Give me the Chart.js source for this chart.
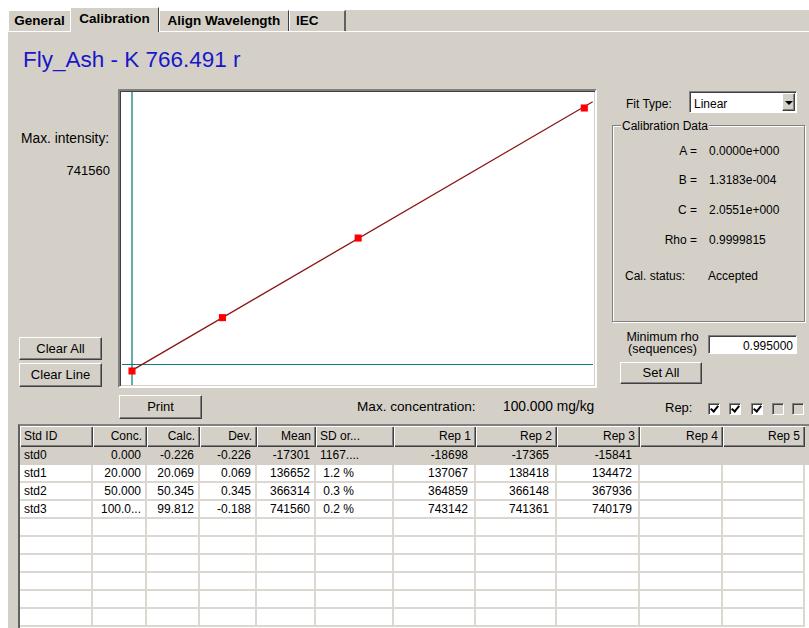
<!DOCTYPE html>
<html>
<head>
<meta charset="utf-8">
<script src="https://cdn.jsdelivr.net/npm/chart.js@4/dist/chart.umd.min.js"></script>
<style>
  body { margin: 0; width: 809px; height: 628px; overflow: hidden; background: #fff; position: relative;
         font-family: Arial, "Liberation Sans", sans-serif; font-size: 12px; color: #000; }
  .abs { position: absolute; white-space: nowrap; line-height: 1; }
  .grey { background: #d4d0c8; }
  .tab { position: absolute; box-sizing: border-box; background: #d4d0c8; font-weight: bold; font-size: 13.5px;
         border-left: 1px solid #fff; border-top: 1px solid #fff; text-align: center; }
  .btn { position: absolute; box-sizing: border-box; background: #d4d0c8; text-align: center;
         border: 1px solid; border-color: #fff #404040 #404040 #fff; box-shadow: inset -1px -1px #808080; }
  .sunk { position: absolute; box-sizing: border-box; background: #fff;
          border: 1px solid; border-color: #808080 #fff #fff #808080; box-shadow: inset 1px 1px #404040; }
  .cb { position: absolute; width: 12px; height: 12px; box-sizing: border-box; background: #d4d0c8;
        border: 1px solid; border-color: #808080 #fff #fff #808080; box-shadow: inset 1px 1px #404040; }
  .cb.on { background: #fff; }
  .cb.on::after { content: ""; position: absolute; left: 3px; top: 0px; width: 3px; height: 6px;
                  border: solid #000; border-width: 0 2px 2px 0; transform: rotate(40deg); }
  #grid { position: absolute; left: 18px; top: 424px; width: 791px; height: 204px; box-sizing: border-box;
          background: #fff; border-left: 2px solid #606060; border-top: 2px solid #808080; }
  .row { display: flex; height: 18px; }
  .row.head { height: 21px; background: #d4d0c8; }
  .row.sel { background: #d4d0c8; }
  .cell { box-sizing: border-box; overflow: hidden; white-space: nowrap; padding: 0 4px; text-align: right;
          border-right: 2px solid #dcd8d1; border-bottom: 2px solid #dcd8d1; line-height: 16px;
          font-family: "Liberation Sans Narrow", "Arial Narrow", Arial, sans-serif; }
  .row.sel .cell { border-color: #d4d0c8; }
  .row.head .cell { font-family: Arial, "Liberation Sans", sans-serif; line-height: 21px; border: none;
          box-shadow: inset 1px 1px #fff, inset -1px -1px #404040, inset -2px -2px #808080; padding: 0 5px 0 4px; }
  .cell.left { text-align: left; }
</style>
</head>
<body>
<div class="abs grey" style="left:8px;top:10px;width:801px;height:618px;"></div>
<div class="abs" style="left:8px;top:31px;width:801px;height:1px;background:#fff;"></div>

<div class="tab" style="left:8px;top:10px;width:62px;height:21px;line-height:20px;">General</div>
<div class="tab" style="left:70px;top:7px;width:89px;height:25px;line-height:21px;border-right:1px solid #404040;">Calibration</div>
<div class="tab" style="left:159px;top:10px;width:130px;height:21px;line-height:20px;border-right:1px solid #404040;">Align Wavelength</div>
<div class="tab" style="left:289px;top:10px;width:57px;height:21px;line-height:20px;border-right:2px solid #606060;text-align:left;padding-left:6px;">IEC</div>

<div class="abs" style="left:23px;top:49px;font-size:22.5px;color:#1717c9;">Fly_Ash - K 766.491 r</div>

<div class="abs" style="left:21px;top:132px;font-size:13.8px;">Max. intensity:</div>
<div class="abs" id="maxInt" style="left:30px;top:164px;width:80px;text-align:right;font-size:13px;"></div>

<div class="btn" style="left:19px;top:337px;width:83px;height:23px;line-height:21px;font-size:13px;">Clear All</div>
<div class="btn" style="left:19px;top:363px;width:83px;height:24px;line-height:22px;font-size:13px;">Clear Line</div>

<!-- plot frame -->
<div class="abs" style="left:118px;top:89px;width:479px;height:299px;box-sizing:border-box;background:#fff;
     border:2px solid;border-color:#808080 #fff #fff #808080;box-shadow:inset 1px 1px #404040, inset -1px -1px #d4d0c8;"></div>
<div class="abs" style="left:122px;top:92px;width:471px;height:293px;">
  <canvas id="calCurve"></canvas>
</div>

<!-- right side -->
<div class="abs" style="left:626px;top:98px;">Fit Type:</div>
<div class="sunk" style="left:689px;top:91px;width:108px;height:22px;">
  <div class="abs" style="left:4px;top:6px;">Linear</div>
  <div class="btn" style="left:92px;top:1px;width:13px;height:18px;">
    <div class="abs" style="left:2px;top:7px;width:0;height:0;border-left:4px solid transparent;border-right:4px solid transparent;border-top:4px solid #000;"></div>
  </div>
</div>

<div class="abs" style="left:612px;top:125px;width:193px;height:197px;box-sizing:border-box;border:1px solid #808080;box-shadow:inset 1px 1px #fff, 1px 1px #fff;"></div>
<div class="abs grey" style="left:621px;top:120px;padding:0 1px;">Calibration Data</div>
<div id="calLabels"></div>
<div class="abs" style="left:625px;top:270px;">Cal. status:</div>
<div class="abs" style="left:708px;top:270px;">Accepted</div>

<div class="abs" style="left:612px;top:331px;width:101px;text-align:center;font-size:12.5px;">Minimum rho</div>
<div class="abs" style="left:612px;top:343px;width:101px;text-align:center;font-size:12.5px;">(sequences)</div>
<div class="sunk" style="left:708px;top:335px;width:89px;height:19px;">
  <div class="abs" id="minRho" style="right:3px;top:4px;"></div>
</div>
<div class="btn" style="left:620px;top:362px;width:82px;height:22px;line-height:20px;font-size:13px;">Set All</div>

<!-- bottom bar -->
<div class="btn" style="left:119px;top:395px;width:83px;height:24px;line-height:22px;font-size:13px;">Print</div>
<div class="abs" style="left:357px;top:400px;font-size:13.6px;">Max. concentration:</div>
<div class="abs" id="maxConc" style="left:503px;top:400px;font-size:13.8px;"></div>
<div class="abs" style="left:665px;top:401px;font-size:13px;">Rep:</div>
<div id="repBoxes"></div>

<div id="grid"></div>

<script>
const stdIds = ["std0", "std1", "std2", "std3"];
const concValues = [0, 20, 50, 100];
const concText = ["0.000", "20.000", "50.000", "100.0..."];
const calcText = ["-0.226", "20.069", "50.345", "99.812"];
const devText = ["-0.226", "0.069", "0.345", "-0.188"];
const meanValues = [-17301, 136652, 366314, 741560];
const sdText = ["1167....", "1.2 %", "0.3 %", "0.2 %"];
const rep1Values = [-18698, 137067, 364859, 743142];
const rep2Values = [-17365, 138418, 366148, 741361];
const rep3Values = [-15841, 134472, 367936, 740179];

// fitted line end points (conc, intensity)
const fitConc = [0, 101.86];
const fitIntensity = [-15590, 759700];

// calibration data panel
const coefLabels = ["A =", "B =", "C =", "Rho ="];
const coefText = ["0.0000e+000", "1.3183e-004", "2.0551e+000", "0.9999815"];

const headers = ["Std ID", "Conc.", "Calc.", "Dev.", "Mean", "SD or...", "Rep 1", "Rep 2", "Rep 3", "Rep 4", "Rep 5"];
const colWidths = [73, 54, 53, 57, 59, 78, 82, 81, 83, 83, 82];
const dataPadRight = [4, 4, 4, 4, 4, 38, 6, 6, 6, 6, 6];
const repChecked = [true, true, true, false, false];

document.getElementById("maxInt").textContent = "741560";
document.getElementById("minRho").textContent = "0.995000";
document.getElementById("maxConc").textContent = "100.000 mg/kg";

// coefficient rows
const labelTops = [145, 174, 204, 234];
const calLabels = document.getElementById("calLabels");
coefLabels.forEach((lab, i) => {
  calLabels.insertAdjacentHTML("beforeend",
    `<div class="abs" style="left:640px;top:${labelTops[i]}px;width:57px;text-align:right;">${lab}</div>` +
    `<div class="abs" style="left:709px;top:${labelTops[i]}px;">${coefText[i]}</div>`);
});

// rep check boxes
const boxLefts = [708, 729, 751, 772, 792];
const repBoxes = document.getElementById("repBoxes");
repChecked.forEach((on, i) => {
  repBoxes.insertAdjacentHTML("beforeend",
    `<div class="cb${on ? " on" : ""}" style="left:${boxLefts[i]}px;top:403px;"></div>`);
});

// table
const grid = document.getElementById("grid");
const makeRow = (cls, cells) => {
  const row = document.createElement("div");
  row.className = "row " + cls;
  cells.forEach((txt, c) => {
    const cell = document.createElement("div");
    cell.className = "cell" + (c === 0 || (cls === "head" && c === 5) ? " left" : "");
    cell.style.width = colWidths[c] + "px";
    if (cls !== "head") cell.style.paddingRight = dataPadRight[c] + "px";
    cell.textContent = txt;
    row.appendChild(cell);
  });
  grid.appendChild(row);
};
makeRow("head", headers);
stdIds.forEach((id, i) => {
  makeRow(i === 0 ? "sel" : "", [id, concText[i], calcText[i], devText[i], meanValues[i], sdText[i],
    rep1Values[i], rep2Values[i], rep3Values[i], "", ""]);
});
for (let r = 0; r < 6; r++) makeRow("", headers.map(() => ""));

// calibration curve
const onlyZero = axis => { axis.ticks = [{ value: 0 }]; };

new Chart(document.getElementById("calCurve"), {
  type: "scatter",
  data: {
    datasets: [
      {
        label: "Standards",
        data: concValues.map((c, i) => ({ x: c, y: meanValues[i] })),
        pointStyle: "rect",
        pointRadius: 5,
        backgroundColor: "#ff0000",
        borderWidth: 0,
        showLine: false
      },
      {
        label: "Fit",
        data: fitConc.map((c, i) => ({ x: c, y: fitIntensity[i] })),
        showLine: true,
        borderColor: "#8a1414",
        borderWidth: 1.3,
        pointRadius: 0
      }
    ]
  },
  options: {
    responsive: true,
    maintainAspectRatio: false,
    animation: false,
    layout: { padding: 0, autoPadding: false },
    plugins: { legend: { display: false }, tooltip: { enabled: false } },
    scales: {
      x: {
        type: "linear", min: -2.211, max: 101.92,
        afterBuildTicks: onlyZero,
        ticks: { display: false },
        border: { display: false },
        grid: { drawTicks: false, color: "#62acac", lineWidth: 2 }
      },
      y: {
        type: "linear", min: -57708, max: 787714,
        afterBuildTicks: onlyZero,
        ticks: { display: false },
        border: { display: false },
        grid: { drawTicks: false, color: "#0b7f7f", lineWidth: 1 }
      }
    }
  }
});
</script>
</body>
</html>
